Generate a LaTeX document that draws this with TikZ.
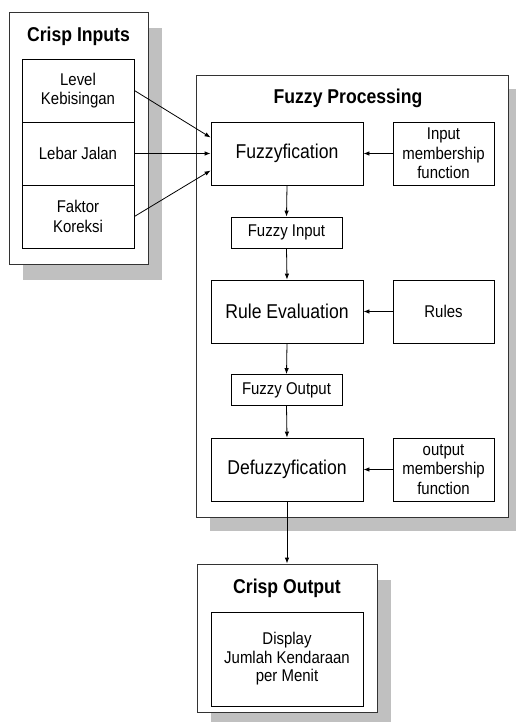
\documentclass[tikz,border=0pt]{standalone}
\usepackage{fontspec}
\setmainfont{Liberation Sans}[FakeStretch=0.88]
\usetikzlibrary{arrows.meta}
\definecolor{shadowgray}{RGB}{192,192,192}
\begin{document}
\begin{tikzpicture}[x=1pt, y=-1pt,
    frame/.style={draw=black!80, fill=white, line width=0.8pt, inner sep=0pt},
    shade/.style={fill=shadowgray, draw=none, inner sep=0pt},
    stage/.style={draw, line width=0.8pt, minimum width=152pt, minimum height=63pt, inner sep=0pt,
        font=\fontsize{20}{24}\selectfont},
    side/.style={draw, line width=0.8pt, minimum width=101pt, minimum height=63pt, inner sep=0pt,
        align=center, font=\fontsize{17}{19.5}\selectfont},
    small/.style={draw, line width=0.8pt, minimum width=111pt, minimum height=31pt, inner sep=0pt,
        font=\fontsize{17}{19}\selectfont},
    item/.style={draw, line width=0.8pt, minimum width=112pt, minimum height=63pt, inner sep=0pt,
        align=center, font=\fontsize{17}{19.5}\selectfont},
    title/.style={font=\bfseries\fontsize{20}{23}\selectfont, inner sep=0pt},
    arr/.style={line width=0.8pt, -{Latex[length=6pt,width=4.5pt]}}]
    \useasboundingbox (0, 0) rectangle (515, 722);
    \node[shade, minimum width=139pt, minimum height=252pt] (inshadow) at (92.5, 154) {};
    \node[shade, minimum width=312pt, minimum height=442pt] (procshadow) at (366, 310) {};
    \node[shade, minimum width=180pt, minimum height=148pt] (outshadow) at (301, 654) {};
    \node[frame, minimum width=139pt, minimum height=252pt] (inbox) at (78.5, 138) {};
    \node[frame, minimum width=312pt, minimum height=442pt] (procbox) at (352, 296) {};
    \node[frame, minimum width=180pt, minimum height=148pt] (outbox) at (287, 638) {};
    \node[title] (intitle) at (78.5, 36) {Crisp Inputs};
    \node[title] (proctitle) at (348, 98) {Fuzzy Processing};
    \node[title] (outtitle) at (287, 588) {Crisp Output};
    \node[item] (level) at (78, 90.5) {Level\\Kebisingan};
    \node[item] (lebar) at (78, 153.5) {Lebar Jalan};
    \node[item] (faktor) at (78, 216.5) {Faktor\\Koreksi};
    \node[stage] (fuzz) at (287, 153.5) {Fuzzyfication};
    \node[side] (inmf) at (443.5, 153.5) {Input\\membership\\function};
    \node[small] (fin) at (286.5, 232.5) {Fuzzy Input};
    \node[stage] (rule) at (287, 311.5) {Rule Evaluation};
    \node[side] (rules) at (443.5, 311.5) {Rules};
    \node[small] (fout) at (286.5, 390) {Fuzzy Output};
    \node[stage] (defuzz) at (287, 469.5) {Defuzzyfication};
    \node[side] (outmf) at (443.5, 469.5) {output\\membership\\function};
    \node[draw, line width=0.8pt, minimum width=152pt, minimum height=94pt, inner sep=0pt,
        align=center, font=\fontsize{17}{18.5}\selectfont] (display) at (287, 659)
        {Display\\Jumlah Kendaraan\\per Menit};
    \draw[arr] (level.east) -- ([yshift=16pt]fuzz.west);
    \draw[arr] (lebar.east) -- (fuzz.west);
    \draw[arr] (faktor.east) -- ([yshift=-17pt]fuzz.west);
    \draw[arr] (inmf.west) -- (fuzz.east);
    \draw[arr] (fuzz.south) -- (fin.north);
    \draw[arr] (fin.south) -- (rule.north);
    \draw[arr] (rules.west) -- (rule.east);
    \draw[arr] (rule.south) -- (fout.north);
    \draw[arr] (fout.south) -- (defuzz.north);
    \draw[arr] (outmf.west) -- (defuzz.east);
    \draw[arr] (defuzz.south) -- (outbox.north);
\end{tikzpicture}
\end{document}
